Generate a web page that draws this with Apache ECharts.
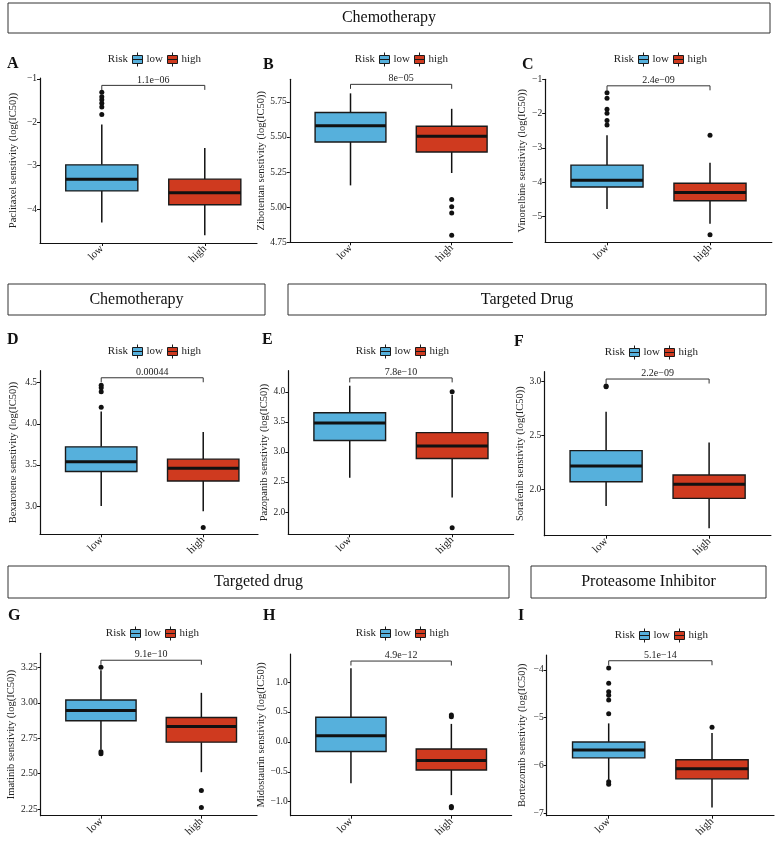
<!DOCTYPE html>
<html>
<head>
<meta charset="utf-8">
<script src="https://cdn.jsdelivr.net/npm/echarts@6/dist/echarts.min.js"></script>
<style>
  html, body { margin: 0; padding: 0; background: #fff; }
  #chart { width: 778px; height: 849px; }
</style>
</head>
<body>
<div id="chart"></div>
<script>
// ---------------- DATA ----------------
const categories = ['low', 'high'];
const panelLetters = ['A', 'B', 'C', 'D', 'E', 'F', 'G', 'H', 'I'];
const drugNames = ['Paclitaxel', 'Zibotentan', 'Vinorelbine', 'Bexarotene', 'Pazopanib',
                   'Sorafenib', 'Imatinib', 'Midostaurin', 'Bortezomib'];
const pValues = ['1.1e\u221206', '8e\u221205', '2.4e\u221209', '0.00044', '7.8e\u221210',
                 '2.2e\u221209', '9.1e\u221210', '4.9e\u221212', '5.1e\u221214'];
// box stats: [lower whisker, Q1, median, Q3, upper whisker]
const lowBoxes = [
  [-4.31, -3.58, -3.31, -2.98, -2.05],
  [5.155, 5.464, 5.579, 5.674, 5.81],
  [-4.78, -4.14, -3.94, -3.50, -2.63],
  [3.00, 3.42, 3.54, 3.72, 4.15],
  [2.57, 3.19, 3.48, 3.65, 4.10],
  [1.845, 2.07, 2.216, 2.36, 2.72],
  [2.67, 2.873, 2.946, 3.019, 3.23],
  [-0.69, -0.16, 0.10, 0.41, 1.23],
  [-6.30, -5.84, -5.675, -5.51, -5.12]
];
const highBoxes = [
  [-4.60, -3.90, -3.62, -3.31, -2.59],
  [5.243, 5.393, 5.505, 5.576, 5.70],
  [-5.21, -4.54, -4.30, -4.03, -3.43],
  [2.935, 3.305, 3.46, 3.57, 3.90],
  [2.24, 2.89, 3.10, 3.32, 3.95],
  [1.638, 1.916, 2.046, 2.133, 2.435],
  [2.51, 2.722, 2.832, 2.896, 3.07],
  [-0.89, -0.47, -0.31, -0.12, 0.30],
  [-6.88, -6.28, -6.07, -5.88, -5.32]
];
const lowOutliers = [
  [-1.82, -1.65, -1.56, -1.48, -1.41, -1.31],
  [],
  [-1.39, -1.55, -1.87, -1.99, -2.20, -2.33],
  [4.20, 4.39, 4.44, 4.47],
  [],
  [2.953, 2.96],
  [3.25, 2.655, 2.64],
  [],
  [-3.96, -4.28, -4.46, -4.53, -4.63, -4.92, -6.34, -6.39]
];
const highOutliers = [
  [],
  [5.055, 5.003, 4.958, 4.80],
  [-2.63, -5.53],
  [2.74],
  [4.00, 1.74],
  [],
  [2.38, 2.26],
  [0.45, 0.42, -1.08, -1.10],
  [-5.20]
];
const bracketLevels = [-1.15, 5.874, -1.19, 4.56, 4.23, 3.025, 3.30, 1.35, -3.81];
const yTickValues = [
  [-4, -3, -2, -1],
  [4.75, 5.00, 5.25, 5.50, 5.75],
  [-5, -4, -3, -2, -1],
  [3.0, 3.5, 4.0, 4.5],
  [2.0, 2.5, 3.0, 3.5, 4.0],
  [2.0, 2.5, 3.0],
  [2.25, 2.50, 2.75, 3.00, 3.25],
  [-1.0, -0.5, 0.0, 0.5, 1.0],
  [-7, -6, -5, -4]
];
const yTickDecimals = [0, 2, 0, 1, 1, 1, 2, 1, 0];
const yRanges = [
  [-4.78, -0.98], [4.75, 5.91], [-5.75, -1.0],
  [2.656, 4.646], [1.63, 4.35], [1.569, 3.093],
  [2.203, 3.349], [-1.234, 1.468], [-7.05, -3.69]
];

// ---------------- LAYOUT ----------------
const FONT = 'Liberation Serif';
const COLORS = { low: '#56B0DC', high: '#CF3A1F' };
// grid: [left, top, width, height], xMax
const grids = [
  [40, 78, 217, 165, 2.507],
  [289.8, 79.3, 222.6, 163, 2.6],
  [545.2, 79.3, 226.6, 163, 2.6],
  [40, 370.7, 218, 163.6, 2.537],
  [288.3, 370.7, 225.3, 163.6, 2.6],
  [544.3, 371.7, 226.6, 164, 2.6],
  [40.7, 653.3, 216.3, 162.4, 2.554],
  [290.7, 654, 220.9, 161.7, 2.6],
  [546.7, 655, 227.3, 160.7, 2.6]
];
const nameGaps = [21, 20, 17.5, 21, 18, 19, 21.7, 20.7, 18.7];
const letterPos = [[7, 64], [263, 65], [522, 65], [7, 340], [262, 340], [514, 342], [8, 616], [263, 616], [518, 616]];
const legendPos = [[132, 59], [379, 59], [638, 59], [132, 351], [380, 351], [629, 352], [130, 633], [380, 633], [639, 635]];
const headers = [
  [8, 3, 762, 30, 'Chemotherapy'],
  [8, 284, 257, 31, 'Chemotherapy'],
  [288, 284, 478, 31, 'Targeted Drug'],
  [8, 566, 501, 32, 'Targeted drug'],
  [531, 566, 235, 32, 'Proteasome Inhibitor']
];

function fmtTick(v, d) {
  const s = Math.abs(v).toFixed(d);
  return (v < 0 ? '\u2212' : '') + s;
}

function boxRender(params, api) {
  const x = api.value(0);
  const pts = [1, 2, 3, 4, 5].map(i => api.coord([x, api.value(i)]));
  const half = api.size([0.7, 0])[0] / 2;
  const cx = pts[0][0];
  return {
    type: 'group',
    children: [
      { type: 'line', shape: { x1: cx, y1: pts[0][1], x2: cx, y2: pts[1][1] }, style: { stroke: '#111', lineWidth: 1.5 } },
      { type: 'line', shape: { x1: cx, y1: pts[3][1], x2: cx, y2: pts[4][1] }, style: { stroke: '#111', lineWidth: 1.5 } },
      { type: 'rect', shape: { x: cx - half, y: pts[3][1], width: 2 * half, height: pts[1][1] - pts[3][1] },
        style: { fill: api.visual('color'), stroke: '#1a1a1a', lineWidth: 1.4 } },
      { type: 'line', shape: { x1: cx - half, y1: pts[2][1], x2: cx + half, y2: pts[2][1] }, style: { stroke: '#111', lineWidth: 3 } }
    ]
  };
}

function makeBracketRender(label) {
  return function (params, api) {
    const y = api.value(2);
    const p1 = api.coord([api.value(0), y]);
    const p2 = api.coord([api.value(1), y]);
    const tip = 4.5;
    return {
      type: 'group',
      children: [
        { type: 'polyline', shape: { points: [[p1[0], p1[1] + tip], [p1[0], p1[1]], [p2[0], p2[1]], [p2[0], p2[1] + tip]] },
          style: { stroke: '#333', lineWidth: 1, fill: null } },
        { type: 'text', x: (p1[0] + p2[0]) / 2, y: p1[1] - 0.5,
          style: { text: label, textAlign: 'center', textVerticalAlign: 'bottom', font: '10px "' + FONT + '"', fill: '#222' } }
      ]
    };
  };
}

const option = {
  animation: false,
  backgroundColor: '#fff',
  grid: [], xAxis: [], yAxis: [], series: [], legend: [], graphic: []
};

const legendIcon = 'path://M5,0 L5,3 M0,3 L10,3 L10,11 L0,11 Z M0,7 L10,7 M5,11 L5,14';

for (let i = 0; i < 9; i++) {
  const g = grids[i];
  option.grid.push({ left: g[0], top: g[1], width: g[2], height: g[3], containLabel: false });
  option.xAxis.push({
    type: 'value', gridIndex: i, min: 0.4, max: g[4],
    axisLine: { show: true, onZero: false, lineStyle: { color: '#111', width: 1.2 } },
    axisTick: { show: true, length: 3, customValues: [1, 2], lineStyle: { color: '#111' } },
    axisLabel: { customValues: [1, 2], rotate: 45, margin: 4, fontFamily: FONT, fontSize: 11, color: '#222',
                 formatter: v => categories[Math.round(v) - 1] },
    splitLine: { show: false }
  });
  option.yAxis.push({
    type: 'value', gridIndex: i, min: yRanges[i][0], max: yRanges[i][1],
    name: drugNames[i] + ' senstivity (log(IC50))',
    nameLocation: 'middle', nameGap: nameGaps[i],
    nameTextStyle: { fontFamily: FONT, fontSize: 10.5, color: '#222' },
    axisLine: { show: true, onZero: false, lineStyle: { color: '#111', width: 1.2 } },
    axisTick: { show: true, length: 3, customValues: yTickValues[i], lineStyle: { color: '#111' } },
    axisLabel: { customValues: yTickValues[i], margin: 3, fontFamily: FONT, fontSize: 9.5, color: '#222',
                 formatter: v => fmtTick(v, yTickDecimals[i]) },
    splitLine: { show: false }
  });
  option.series.push({
    type: 'custom', name: 'low', xAxisIndex: i, yAxisIndex: i,
    itemStyle: { color: COLORS.low }, renderItem: boxRender,
    encode: { x: 0, y: [1, 2, 3, 4, 5] },
    data: [[1].concat(lowBoxes[i])]
  });
  option.series.push({
    type: 'custom', name: 'high', xAxisIndex: i, yAxisIndex: i,
    itemStyle: { color: COLORS.high }, renderItem: boxRender,
    encode: { x: 0, y: [1, 2, 3, 4, 5] },
    data: [[2].concat(highBoxes[i])]
  });
  option.series.push({
    type: 'scatter', name: 'outliers', xAxisIndex: i, yAxisIndex: i,
    symbolSize: 5, itemStyle: { color: '#111', opacity: 1 }, silent: true,
    data: lowOutliers[i].map(v => [1, v]).concat(highOutliers[i].map(v => [2, v]))
  });
  option.series.push({
    type: 'custom', name: 'pvalue', xAxisIndex: i, yAxisIndex: i, clip: false,
    renderItem: makeBracketRender(pValues[i]),
    encode: { x: [0, 1], y: 2 },
    data: [[1, 2, bracketLevels[i]]]
  });

  const lp = legendPos[i];
  option.legend.push({
    left: lp[0], top: lp[1] - 7, padding: 0, itemGap: 4, itemWidth: 10, itemHeight: 14,
    selectedMode: false, icon: legendIcon,
    itemStyle: { borderColor: '#1a1a1a', borderWidth: 1 },
    textStyle: { fontFamily: FONT, fontSize: 11, color: '#222', padding: [0, 0, 0, -1] },
    data: ['low', 'high']
  });
  option.graphic.push({
    type: 'text', x: lp[0] - 4, y: lp[1],
    style: { text: 'Risk', textAlign: 'right', textVerticalAlign: 'middle', font: '11px "' + FONT + '"', fill: '#222' }
  });
  option.graphic.push({
    type: 'text', x: letterPos[i][0], y: letterPos[i][1],
    style: { text: panelLetters[i], textAlign: 'left', textVerticalAlign: 'middle', font: 'bold 16px "' + FONT + '"', fill: '#111' }
  });
}

headers.forEach(h => {
  option.graphic.push({
    type: 'rect', shape: { x: h[0], y: h[1], width: h[2], height: h[3] },
    style: { fill: '#fff', stroke: '#333', lineWidth: 1 }
  });
  option.graphic.push({
    type: 'text', x: h[0] + h[2] / 2, y: h[1] + h[3] / 2,
    style: { text: h[4], textAlign: 'center', textVerticalAlign: 'middle', font: '16px "' + FONT + '"', fill: '#111' }
  });
});

const chart = echarts.init(document.getElementById('chart'), null, { renderer: 'canvas', width: 778, height: 849 });
chart.setOption(option);
</script>
</body>
</html>
